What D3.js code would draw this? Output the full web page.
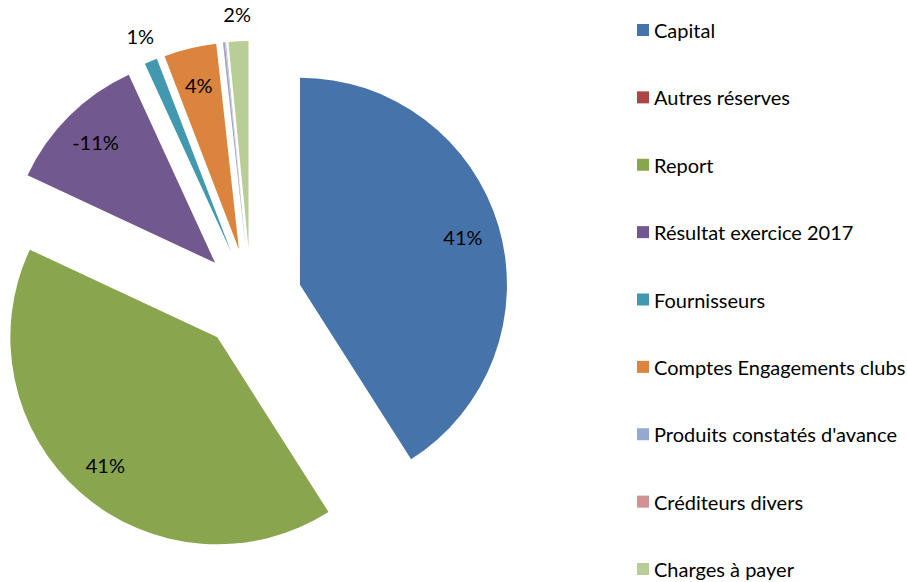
<!DOCTYPE html>
<html>
<head>
<meta charset="utf-8">
<script src="https://cdn.jsdelivr.net/npm/d3@7"></script>
<style>
body{margin:0;background:#fff;}
text{font-family:Lato,"Open Sans",sans-serif;}
</style>
</head>
<body>
<script>
// categories and values (percent of total, Excel draws the negative one as its absolute value)
var categories = ["Capital","Autres réserves","Report","Résultat exercice 2017","Fournisseurs","Comptes Engagements clubs","Produits constatés d'avance","Créditeurs divers","Charges à payer"]
var values = [41.0, 0, 41.0, -11.2, 1.0, 4.1, 0.15, 0.05, 1.55]
var colors = ["#4674AA","#AA4643","#89A54E","#71588F","#4198AF","#DB843D","#93A9CF","#D19392","#B9CD96"]

var w = 907, h = 582
var cx = 251, cy = 299, R = 207, explode = 51

var svg = d3.select("body").append("svg")
	.attr("width", w)
	.attr("height", h)

var total = d3.sum(values, function(d){return Math.abs(d)})
var pie = d3.pie().sort(null).value(function(d){return Math.abs(d.v)})
var arc = d3.arc().innerRadius(0).outerRadius(R)

var data = values.map(function(v,i){return {v:v, name:categories[i], color:colors[i]}})
var arcs = pie(data)

var g = svg.append("g").attr("transform","translate("+cx+","+cy+")")

var slice = g.selectAll("g.slice")
	.data(arcs)
	.enter()
	.append("g")
	.attr("class","slice")
	.attr("transform", function(d){
		var a = (d.startAngle+d.endAngle)/2
		return "translate("+(Math.sin(a)*explode)+","+(-Math.cos(a)*explode)+")"
	})

slice.append("path")
	.attr("d", arc)
	.attr("fill", function(d){return d.data.color})

// plain hyphen for the minus, like Excel
var fmt = d3.formatLocale({decimal:".", thousands:",", grouping:[3], currency:["","€"], minus:"-"}).format(".0%")
function labelR(d){
	return Math.abs(d.data.v)/total >= 0.03 ? R*0.82 : R+27
}
slice.append("text")
	.attr("text-anchor","middle")
	.attr("dominant-baseline","central")
	.attr("font-size", 20)
	.attr("fill","#000")
	.attr("x", function(d){
		var a = (d.startAngle+d.endAngle)/2
		return Math.sin(a)*labelR(d)
	})
	.attr("y", function(d){
		var a = (d.startAngle+d.endAngle)/2
		return -Math.cos(a)*labelR(d)
	})
	.text(function(d){
		var p = d.data.v/total
		if (Math.round(Math.abs(p)*100) == 0) return ""
		return fmt(p)
	})

// legend
var legY = d3.scalePoint().domain(categories).range([30, 569])
var leg = svg.selectAll("g.leg")
	.data(data)
	.enter()
	.append("g")
	.attr("class","leg")
	.attr("transform", function(d){return "translate(637,"+legY(d.name)+")"})

leg.append("rect")
	.attr("x",0).attr("y",-6)
	.attr("width",12).attr("height",12)
	.attr("fill", function(d){return d.color})

leg.append("text")
	.attr("x",17)
	.attr("dominant-baseline","central")
	.attr("font-size",20)
	.attr("fill","#000")
	.text(function(d){return d.name})
</script>
</body>
</html>
